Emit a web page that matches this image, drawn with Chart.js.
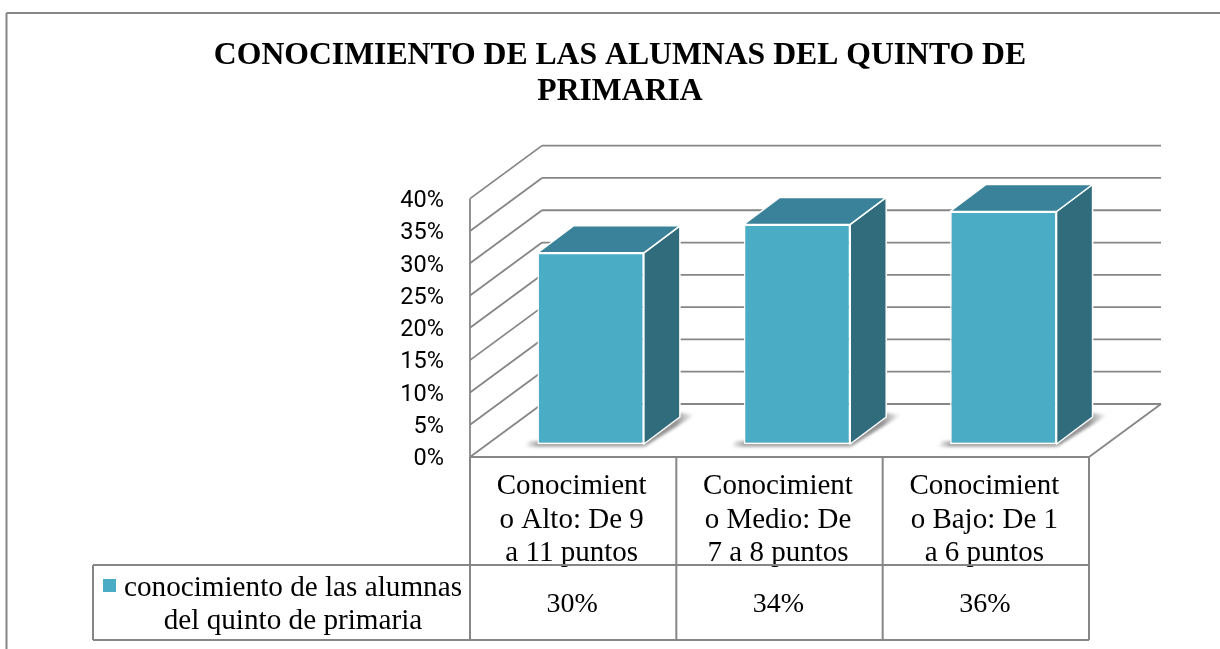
<!DOCTYPE html>
<html>
<head>
<meta charset="utf-8">
<style>
    html, body { margin: 0; padding: 0; background: #fff; }
    #barChart { display: block; }
</style>
</head>
<body>
<div id="container">
    <canvas id="barChart" width="1220" height="649"></canvas>
</div>

<script src="https://cdn.jsdelivr.net/npm/chart.js@4"></script>
<script>
    var titleLines = ["CONOCIMIENTO DE LAS ALUMNAS DEL QUINTO DE", "PRIMARIA"];
    var categories = [
        ["Conocimient", "o Alto: De 9", "a 11 puntos"],
        ["Conocimient", "o Medio: De", "7 a 8 puntos"],
        ["Conocimient", "o Bajo: De 1", "a 6 puntos"]
    ];
    var seriesName = ["conocimiento de las alumnas", "del quinto de primaria"];
    var values = [29.6, 34, 36];
    var axisMax = 40;
    var axisStep = 5;

    var GREY = "#868686";
    var FRONT = "#4BACC6";
    var TOP = "#3A8299";
    var SIDE = "#316C7C";
    var SERIF = "'Liberation Serif', 'Times New Roman', serif";

    // depth of the floor and of the boxes, in px
    var floorDepth = { x: 72, y: -53 };
    var barShift = { x: 17.5, y: -13 };
    var barDepth = { x: 36, y: -27 };

    function poly(ctx, pts) {
        ctx.beginPath();
        ctx.moveTo(pts[0][0], pts[0][1]);
        for (var i = 1; i < pts.length; i++) {
            ctx.lineTo(pts[i][0], pts[i][1]);
        }
        ctx.closePath();
    }

    function line(ctx, x1, y1, x2, y2) {
        ctx.beginPath();
        ctx.moveTo(x1, y1);
        ctx.lineTo(x2, y2);
        ctx.stroke();
    }

    function fade(ctx, x1, x2, from, to) {
        var g = ctx.createLinearGradient(x1, 0, x2, 0);
        g.addColorStop(0, from);
        g.addColorStop(1, to);
        return g;
    }

    var frame3d = {
        id: "frame3d",
        beforeDraw: function(chart) {
            var ctx = chart.ctx;
            ctx.save();
            ctx.strokeStyle = GREY;
            ctx.lineWidth = 2;
            line(ctx, 6.5, 13, 6.5, 649);
            line(ctx, 6.5, 13, 1220, 13);
            ctx.restore();
        },
        beforeDatasetsDraw: function(chart) {
            var ctx = chart.ctx;
            var area = chart.chartArea;
            var yScale = chart.scales.y;
            ctx.save();

            // walls and floor
            ctx.strokeStyle = GREY;
            ctx.lineWidth = 1.8;
            yScale.ticks.forEach(function(t) {
                var y = yScale.getPixelForValue(t.value);
                line(ctx, area.left, y, area.left + floorDepth.x, y + floorDepth.y);
                line(ctx, area.left + floorDepth.x, y + floorDepth.y, area.right + floorDepth.x, y + floorDepth.y);
            });
            line(ctx, area.left, area.top, area.left, area.bottom);
            line(ctx, area.right, area.bottom, area.right + floorDepth.x, area.bottom + floorDepth.y);

            // boxes: shadow, then side and top faces
            chart.getDatasetMeta(0).data.forEach(function(bar) {
                var l = bar.x - bar.width / 2 + barShift.x;
                var r = bar.x + bar.width / 2 + barShift.x;
                var t = bar.y + barShift.y;
                var b = bar.base + barShift.y;
                var backX = r + barDepth.x;
                var backY = b + barDepth.y;

                ctx.save();
                ctx.filter = "blur(1.5px)";
                ctx.fillStyle = fade(ctx, l - 13, l, "rgba(150,150,150,0)", "rgba(150,150,150,0.8)");
                poly(ctx, [[l - 13, b + 3], [r, b + 3], [r, b - 3], [l - 8, b - 3]]);
                ctx.fill();
                ctx.fillStyle = fade(ctx, backX - 4, backX + 15, "rgba(135,135,135,0.9)", "rgba(150,150,150,0)");
                poly(ctx, [[r, b + 3], [backX + 15, backY - 2], [backX, backY - 4], [r, b - 4]]);
                ctx.fill();
                ctx.restore();

                ctx.lineWidth = 1.5;
                ctx.lineJoin = "round";
                ctx.strokeStyle = "#ffffff";
                ctx.fillStyle = SIDE;
                poly(ctx, [[r, t], [backX, t + barDepth.y], [backX, backY], [r, b]]);
                ctx.fill();
                ctx.stroke();
                ctx.fillStyle = TOP;
                poly(ctx, [[l, t], [l + barDepth.x, t + barDepth.y], [backX, t + barDepth.y], [r, t]]);
                ctx.fill();
                ctx.stroke();
            });
            ctx.restore();

            // front faces are the chart's own bars, moved into the floor
            ctx.save();
            ctx.translate(barShift.x, barShift.y);
        },
        afterDatasetsDraw: function(chart) {
            chart.ctx.restore();
        },
        afterDraw: function(chart) {
            var ctx = chart.ctx;
            var area = chart.chartArea;
            var xScale = chart.scales.x;
            var rowTop = 565;
            var rowBottom = 640;
            var legendLeft = 93;
            ctx.save();

            // data table below the axis
            ctx.strokeStyle = GREY;
            ctx.lineWidth = 2;
            line(ctx, area.left, area.bottom, area.right, area.bottom);
            line(ctx, legendLeft, rowTop, area.right, rowTop);
            line(ctx, legendLeft, rowBottom, area.right, rowBottom);
            line(ctx, legendLeft, rowTop, legendLeft, rowBottom);
            var w = (area.right - area.left) / categories.length;
            for (var i = 0; i <= categories.length; i++) {
                line(ctx, area.left + w * i, area.bottom, area.left + w * i, rowBottom);
            }

            ctx.fillStyle = "#000";
            ctx.font = "28px " + SERIF;
            ctx.textBaseline = "alphabetic";
            ctx.textAlign = "center";
            values.forEach(function(v, i) {
                ctx.fillText(Math.round(v) + "%", xScale.getPixelForTick(i) - 1, 612);
            });

            ctx.font = "29.2px " + SERIF;
            ctx.fillText(seriesName[0], 293, 596);
            ctx.fillText(seriesName[1], 293, 629);
            ctx.fillStyle = FRONT;
            ctx.fillRect(103, 579, 13, 13);
            ctx.restore();
        }
    };

    var ctx = document.getElementById("barChart").getContext("2d");
    var myChart = new Chart(ctx, {
        type: "bar",
        data: {
            labels: categories,
            datasets: [{
                label: seriesName.join(" "),
                data: values,
                backgroundColor: FRONT,
                borderColor: "#ffffff",
                borderWidth: 1.5,
                borderSkipped: false,
                categoryPercentage: 1,
                barPercentage: 0.516,
                clip: false
            }]
        },
        options: {
            responsive: false,
            animation: false,
            layout: { padding: { left: 151, right: 131, top: 0, bottom: 0 } },
            plugins: {
                legend: { display: false },
                tooltip: { enabled: false },
                title: {
                    display: true,
                    text: titleLines,
                    color: "#000",
                    font: { family: SERIF, size: 31.7, weight: "bold", lineHeight: 1.13 },
                    padding: { top: 38, bottom: 89 }
                }
            },
            scales: {
                x: {
                    grid: { display: false, drawTicks: false },
                    border: { display: false },
                    ticks: {
                        color: "#000",
                        font: { family: SERIF, size: 29, lineHeight: 1.15 },
                        padding: 13,
                        labelOffset: -1.5,
                        maxRotation: 0,
                        autoSkip: false
                    },
                    afterFit: function(scale) { scale.height = 192; }
                },
                y: {
                    min: 0,
                    max: axisMax,
                    grid: { display: false, drawTicks: false },
                    border: { display: false },
                    ticks: {
                        stepSize: axisStep,
                        color: "#000",
                        font: { family: "Roboto", size: 23.5 },
                        padding: 26,
                        labelOffset: 2.5,
                        callback: function(v) { return v + "%"; }
                    },
                    afterFit: function(scale) { scale.width = 319; }
                }
            }
        },
        plugins: [frame3d]
    });
</script>
</body>
</html>
